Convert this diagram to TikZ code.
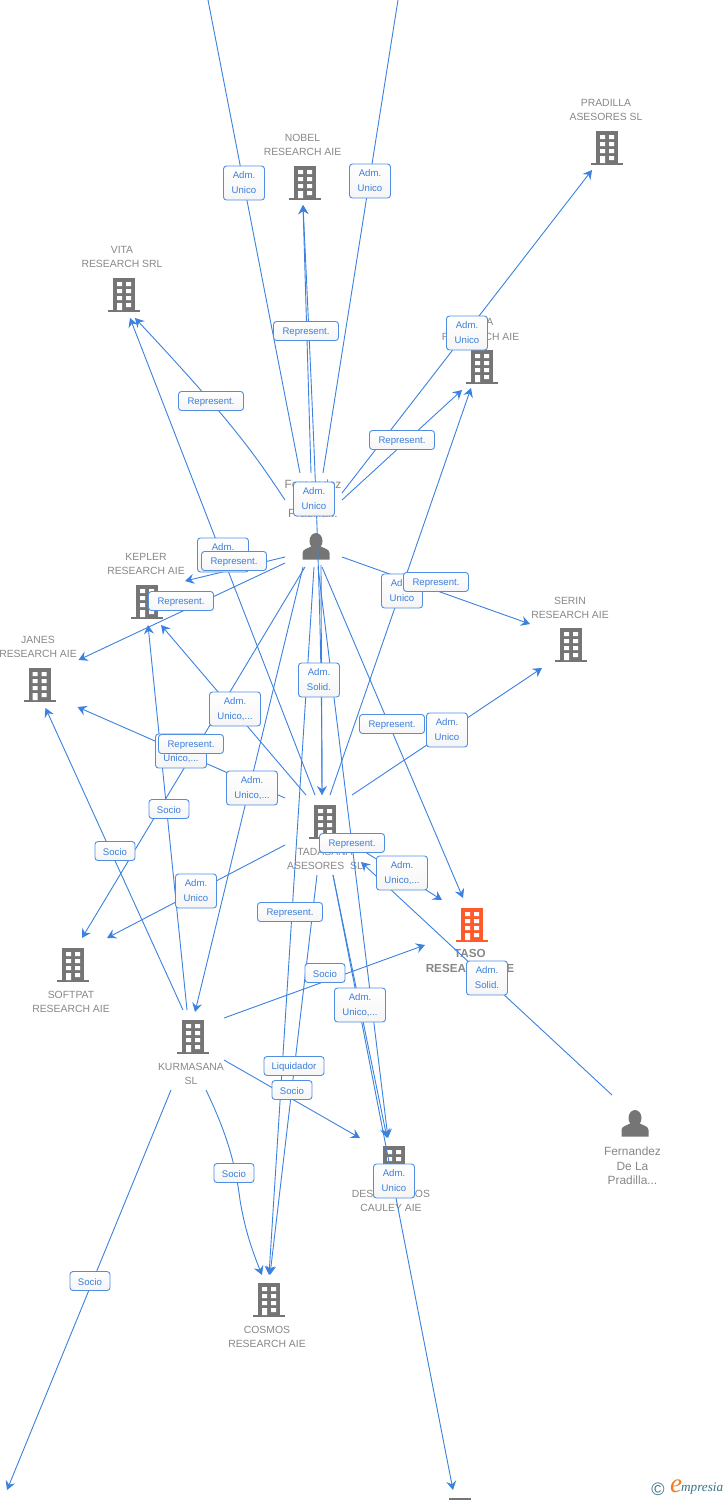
\documentclass[tikz,border=0pt]{standalone}
\usepackage{fontspec}
\setmainfont{Liberation Sans}
\newfontfamily\logofont{Liberation Serif}
\usetikzlibrary{arrows.meta,calc}
\definecolor{linkblue}{HTML}{3B82E0}
\definecolor{labelblue}{HTML}{3A7FDC}
\definecolor{iconA}{HTML}{757575}
\definecolor{nameA}{HTML}{888888}
\definecolor{hot}{HTML}{FF5A2B}
\definecolor{logoteal}{HTML}{3A7488}
\definecolor{logoorange}{HTML}{F47B20}
\tikzset{
  connline/.style={draw=linkblue,line width=0.9pt},
  tip/.style={-{Stealth[length=9pt,width=10pt,inset=3.2pt]}},
  linkbox/.style={draw=linkblue!90!white,line width=0.9pt,rounded corners=3pt,top color=white,bottom color=black!4,
    text=labelblue,inner sep=0pt,align=center,font=\fontsize{9.6}{15}\selectfont,
    execute at begin node={\rule{0pt}{9pt}}},
  boxone/.style={linkbox,minimum width=65pt,minimum height=19pt},
  boxsocio/.style={linkbox,minimum width=40pt,minimum height=19pt},
  boxliq/.style={linkbox,minimum width=60pt,minimum height=19pt},
  boxtwo/.style={linkbox,minimum width=41pt,minimum height=34pt},
  boxwide/.style={linkbox,minimum width=51pt,minimum height=34pt},
  bname/.style={text=nameA,align=center,inner sep=0pt,font=\fontsize{10.4}{14.6}\selectfont},
  pname/.style={text=nameA,align=center,inner sep=0pt,font=\fontsize{11.9}{14.6}\selectfont},
  hotname/.style={text=nameA,align=center,inner sep=0pt,font=\fontsize{11.7}{14.6}\selectfont\bfseries},
  anchorbox/.style={inner sep=0pt,minimum width=32pt,minimum height=34pt},
}
\newcommand\bldg[4]{%
  \node[anchorbox] (#1) at (#2,#3) {};
  \begin{scope}[shift={(#2,#3)}]
    \fill[#4] (-11,-17) rectangle (11,15);
    \fill[#4] (-16,15) rectangle (16,17);
    \fill[white] (-7,-13) rectangle (-2,-9) (2,-13) rectangle (7,-9)
      (-7,-6) rectangle (-2,-2) (2,-6) rectangle (7,-2)
      (-7,1) rectangle (-2,5) (2,1) rectangle (7,5)
      (-7,8) rectangle (-2,15) (2,8) rectangle (7,12);
  \end{scope}}
\newcommand\person[3]{%
  \node[anchorbox] (#1) at (#2,#3) {};
  \begin{scope}[shift={(#2,#3)}]
    \fill[iconA] (0,-6) ellipse (6.5 and 8);
    \fill[iconA] (-13.5,12.5) -- (-13.5,6) .. controls (-13.5,2) and (-8,1.5) .. (-4,-1) -- (4,-1)
      .. controls (8,1.5) and (13.5,2) .. (13.5,6) -- (13.5,12.5) -- cycle;
  \end{scope}}
\newcommand\conn[5][]{\draw[connline,#1] ($(#2)+(#3)$) -- ($(#4)+(#5)$);}
\begin{document}
\begin{tikzpicture}[x=1pt,y=-1pt]
\useasboundingbox (0,0) rectangle (728,1500);
\fill[white] (0,0) rectangle (728,1500);
% free ends
\coordinate (TL) at (208,0);
\coordinate (TR) at (398,0);
\coordinate (BL) at (7,1490);
% icons
\bldg{N}{305}{183}{iconA}
\bldg{R}{607}{148}{iconA}
\bldg{V}{124}{295}{iconA}
\bldg{A}{482}{367}{iconA}
\bldg{E}{147}{602}{iconA}
\bldg{J}{39.5}{685}{iconA}
\bldg{S}{571}{645}{iconA}
\bldg{T}{325}{822}{iconA}
\bldg{O}{472}{925}{hot}
\bldg{F}{73}{965}{iconA}
\bldg{K}{193}{1037}{iconA}
\bldg{C}{269}{1300}{iconA}
\bldg{D}{394}{1163}{iconA}
\bldg{B}{460}{1515}{iconA}
\person{P}{316}{547}
\person{G}{635}{1124}
% names
\node[bname] (nN) at (302.5,145) {NOBEL\\RESEARCH AIE};
\node[bname] (nR) at (606,110) {PRADILLA\\ASESORES SL};
\node[bname] (nV) at (122,257) {VITA\\RESEARCH SRL};
\node[bname] (nA) at (480.5,329.5) {AYLA\\RESEARCH AIE};
\node[bname] (nE) at (146,564) {KEPLER\\RESEARCH AIE};
\node[bname] (nJ) at (38,647) {JANES\\RESEARCH AIE};
\node[bname] (nS) at (570,608) {SERIN\\RESEARCH AIE};
\node[bname] (nT) at (325,859) {TADASANA\\ASESORES~~SL};
\node[hotname] (nO) at (470,961) {TASO\\RESEARCH AIE};
\node[bname] (nF) at (71,1002) {SOFTPAT\\RESEARCH AIE};
\node[bname] (nK) at (191,1074) {KURMASANA\\SL};
\node[bname] (nC) at (267,1337) {COSMOS\\RESEARCH AIE};
\node[bname] (nD) at (391,1201) {DESARROLLOS\\CAULEY AIE};
\node[pname] (nP) at (313,499) {Fernandez\\De La\\Pradilla...};
\node[pname] (nG) at (632.5,1166) {Fernandez\\De La\\Pradilla...};
% connectors
\conn{P}{-16,-74}{TL}{0,0}
\conn{P}{7,-74}{TR}{0,0}
\conn[tip]{P}{-5,-74}{N}{-2,22}
\draw[connline,tip] ($(T)+(-3,-27)$) .. controls (322,620) and (316,480) .. ($(N)+(-2,22)$);
\draw[connline,tip] ($(P)+(-31,-47)$) .. controls (255,455) and (235,425) .. ($(V)+(11,23)$);
\conn[tip]{T}{-10,-27}{V}{6,23}
\conn[tip]{P}{-31,10}{E}{38,-21}
\conn[tip]{P}{-31,16}{J}{39,-25}
\conn[tip]{T}{-19,-27}{E}{14,23}
\conn[tip]{T}{-40,-24}{J}{38,22}
\conn[tip]{P}{-11,20}{F}{9,-27}
\conn[tip]{K}{-6,-27}{E}{1,23}
\conn[tip]{K}{-10,-27}{J}{6,23}
\conn[tip]{T}{-40,23}{F}{34,-27}
\conn[tip]{P}{-13,20}{K}{2,-25}
\conn[tip]{P}{6,20}{O}{-9,-27}
\conn[tip]{T}{5,-27}{A}{-11,21}
\conn[tip]{P}{26,10}{S}{-41,-21}
\conn[tip]{T}{27,-27}{S}{-29,23}
\conn[tip]{P}{26,-47}{A}{-20,23}
\conn[tip]{P}{26,-54}{R}{-15,22}
\conn[tip]{T}{37,28}{O}{-30,-25}
\conn[tip]{G}{-23,-29}{T}{36,40}
\conn[tip]{P}{2,20}{D}{-6,-25}
\conn[tip]{T}{8,53}{D}{-7,-25}
\conn[tip]{T}{8,53}{B}{-7,-25}
\conn[tip]{P}{-2,20}{C}{0,-25}
\conn[tip]{T}{-8,53}{C}{1,-25}
\conn[tip]{K}{31,23}{D}{-34,-25}
\conn[tip]{K}{31,-19}{O}{-47,20}
\draw[connline,tip] ($(K)+(13,53)$) .. controls (225,1130) and (235,1160) .. (240,1200) .. controls (245,1230) and (252,1250) .. ($(C)+(-7,-25)$);
\conn[tip]{K}{-22,53}{BL}{0,0}
\conn[tip]{P}{5,18}{T}{-3,-27}
% link labels
\node[boxtwo] (l1) at (244,183) {Adm.\\Unico};
\node[boxtwo] (l2) at (370,181) {Adm.\\Unico};
\node[boxone] (l3) at (306,331) {Represent.};
\node[boxone] (l4) at (211,401) {Represent.};
\node[boxtwo] (l5) at (467,333) {Adm.\\Unico};
\node[boxone] (l6) at (402,440) {Represent.};
\node[boxtwo] (l7) at (314,499) {Adm.\\Unico};
\node[boxwide] (l8) at (223,555) {Adm.\\Unico,...};
\node[boxone] (l9) at (234,561) {Represent.};
\node[boxone] (l10) at (181,601) {Represent.};
\node[boxtwo] (l11) at (402,591) {Adm.\\Unico};
\node[boxone] (l12) at (436,582) {Represent.};
\node[boxtwo] (l13) at (319,680) {Adm.\\Solid.};
\node[boxwide] (l14) at (235,709) {Adm.\\Unico,...};
\node[boxone] (l15) at (392,724) {Represent.};
\node[boxtwo] (l16) at (447,730) {Adm.\\Unico};
\node[boxwide] (l17) at (181,751) {Adm.\\Unico,...};
\node[boxone] (l18) at (191,744) {Represent.};
\node[boxwide] (l19) at (252,788) {Adm.\\Unico,...};
\node[boxsocio] (l20) at (169,809) {Socio};
\node[boxsocio] (l21) at (115,851) {Socio};
\node[boxwide] (l22) at (402,873) {Adm.\\Unico,...};
\node[boxone] (l23) at (352,843) {Represent.};
\node[boxtwo] (l24) at (196,891) {Adm.\\Unico};
\node[boxone] (l25) at (290,912) {Represent.};
\node[boxsocio] (l26) at (325,973) {Socio};
\node[boxtwo] (l27) at (487,978) {Adm.\\Solid.};
\node[boxwide] (l28) at (360,1005) {Adm.\\Unico,...};
\node[boxliq] (l29) at (294,1066) {Liquidador};
\node[boxsocio] (l30) at (292,1090) {Socio};
\node[boxsocio] (l31) at (234,1173) {Socio};
\node[boxtwo] (l32) at (394,1181) {Adm.\\Unico};
\node[boxsocio] (l33) at (90,1281) {Socio};
% logo
\node[text=logoteal,inner sep=0pt,font=\fontsize{18}{18}\selectfont] (c1) at (658,1489) {©};
\node[text=logoorange,inner sep=0pt,font=\logofont\itshape\fontsize{27}{27}\selectfont] (c2) at (676,1486) {e};
\node[text=logoteal,inner sep=0pt,anchor=west,font=\logofont\itshape\fontsize{13.2}{13.2}\selectfont] (c3) at (681,1489) {mpresia};
\end{tikzpicture}
\end{document}
